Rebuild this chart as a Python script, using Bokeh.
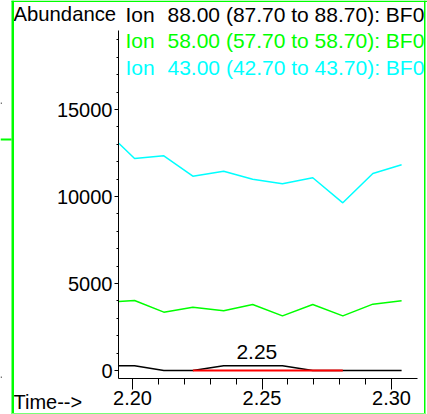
from bokeh.plotting import figure
from bokeh.models import Range1d, Label, BoxAnnotation, SingleIntervalTicker, PrintfTickFormatter
from bokeh.embed import file_html
from bokeh.resources import INLINE
from bokeh.core.properties import value

# ---- data ----
scan_times = [2.1947, 2.2008, 2.2121, 2.2233, 2.2352, 2.2464, 2.2579, 2.2696, 2.2812, 2.2928, 2.3039]
ion_88 = [270, 270, 0, 0, 270, 270, 270, 0, 0, 0, 0]
ion_58 = [3966, 4023, 3352, 3640, 3429, 3793, 3142, 3793, 3142, 3812, 4004]
ion_43 = [13063, 12184, 12339, 11167, 11454, 10994, 10730, 11075, 9638, 11322, 11822]
baseline_times = [2.2233, 2.2812]
baseline_values = [0, 0]
peak_rt = [2.248]
peak_height = [270]
peak_label = ["2.25"]
legend_ions = ["88.00 (87.70 to 88.70): BF0", "58.00 (57.70 to 58.70): BF0", "43.00 (42.70 to 43.70): BF0"]
legend_colors = ["#000000", "#00ff00", "#00ffff"]
x_tick_step = 0.05
y_tick_step = 5000

FONT = "Liberation Sans"
FS = "20px"
FS_HEAD = "21px"

W, H = 427, 414
# pixel layout of the axes box (canvas px)
AX_L, AX_R, AX_T, AX_B = 118, 416.5, 30, 378
X0_PX, X0_VAL, X_PX_PER = 132, 2.20, 2590.0      # 2.20 at px 132, px per minute
Y0_PX, Y_PX_PER = 370, 0.0174                     # abundance 0 at px 370


def xv(px):
    return X0_VAL + (px - X0_PX) / X_PX_PER


def yv(py):
    return (Y0_PX - py) / Y_PX_PER


p = figure(width=W, height=H, output_backend="svg", toolbar_location=None,
           x_range=Range1d(xv(0), xv(W)), y_range=Range1d(yv(H), yv(0)),
           min_border=0)
p.xgrid.visible = False
p.ygrid.visible = False
p.outline_line_color = None
p.background_fill_color = "white"
p.border_fill_color = "white"

# axes drawn inside the (full-canvas) frame
xa = p.xaxis[0]
xa.fixed_location = yv(AX_B)
xa.bounds = (xv(AX_L), xv(AX_R))
xa.ticker = SingleIntervalTicker(interval=x_tick_step, num_minor_ticks=5)
xa.formatter = PrintfTickFormatter(format="%.2f")
xa.major_tick_out = 11
xa.major_tick_in = 0
xa.minor_tick_out = 6
xa.minor_tick_in = 0
xa.major_label_standoff = 1
ya = p.yaxis[0]
ya.fixed_location = xv(AX_L)
ya.bounds = (yv(AX_B), yv(AX_T))
ya.ticker = SingleIntervalTicker(interval=y_tick_step, num_minor_ticks=5)
ya.major_tick_out = 4
ya.major_tick_in = 0
ya.minor_tick_out = 2
ya.minor_tick_in = 0
ya.major_label_standoff = 2
for ax in (xa, ya):
    ax.axis_line_color = "black"
    ax.major_tick_line_color = "black"
    ax.minor_tick_line_color = "black"
    ax.major_label_text_font = FONT
    ax.major_label_text_font_size = FS
    ax.major_label_text_color = "black"

# traces
p.line(scan_times, ion_43, line_color="#00ffff", line_width=1.5)
p.line(scan_times, ion_58, line_color="#00ff00", line_width=1.5)
p.line(scan_times, ion_88, line_color="#000000", line_width=1.5)
p.line(baseline_times, baseline_values, line_color="#ff0000", line_width=2)
p.text(x=peak_rt, y=peak_height, text=peak_label, text_font=value(FONT), text_font_size=FS_HEAD,
       text_align="center", text_baseline="alphabetic", y_offset=-14, text_color="black")


def canvas_label(txt, x, y, color="black", size=FS_HEAD):
    p.add_layout(Label(x=x, y=y, x_units="canvas", y_units="canvas", text=txt,
                       text_font=FONT, text_font_size=size, text_color=color,
                       text_baseline="alphabetic"))


def canvas_box(l, r, t, b, color):
    p.add_layout(BoxAnnotation(left=l, right=r, top=t, bottom=b, left_units="canvas", right_units="canvas",
                               top_units="canvas", bottom_units="canvas", fill_color=color, fill_alpha=1,
                               line_color=None, level="overlay"))


# header / footer texts
canvas_label("Abundance", 13, 13.7, size="20.3px")
for i, (txt, col) in enumerate(zip(legend_ions, legend_colors)):
    yb = 13.7 + i * 26.7
    canvas_label("Ion", 125, yb, col)
    canvas_label(txt, 167, yb, col)
canvas_label("Time-->", 13, 401, size=FS)

# green frame and edge marks
canvas_box(11, 13.5, 0, H, "#00ff00")
canvas_box(0, 11, 138, 140, "#00ff00")
canvas_box(11, W, 0, 1.5, "#00ff00")
canvas_box(423.5, 425, 0, H, "#00ff00")
canvas_box(11, 425, 412.5, H, "#77ff77")
canvas_box(0, 1.5, 102, 103.5, "#777777")
canvas_box(0, 1.5, 376, 377.5, "#777777")

open("out.html", "w").write(file_html(p, INLINE))
